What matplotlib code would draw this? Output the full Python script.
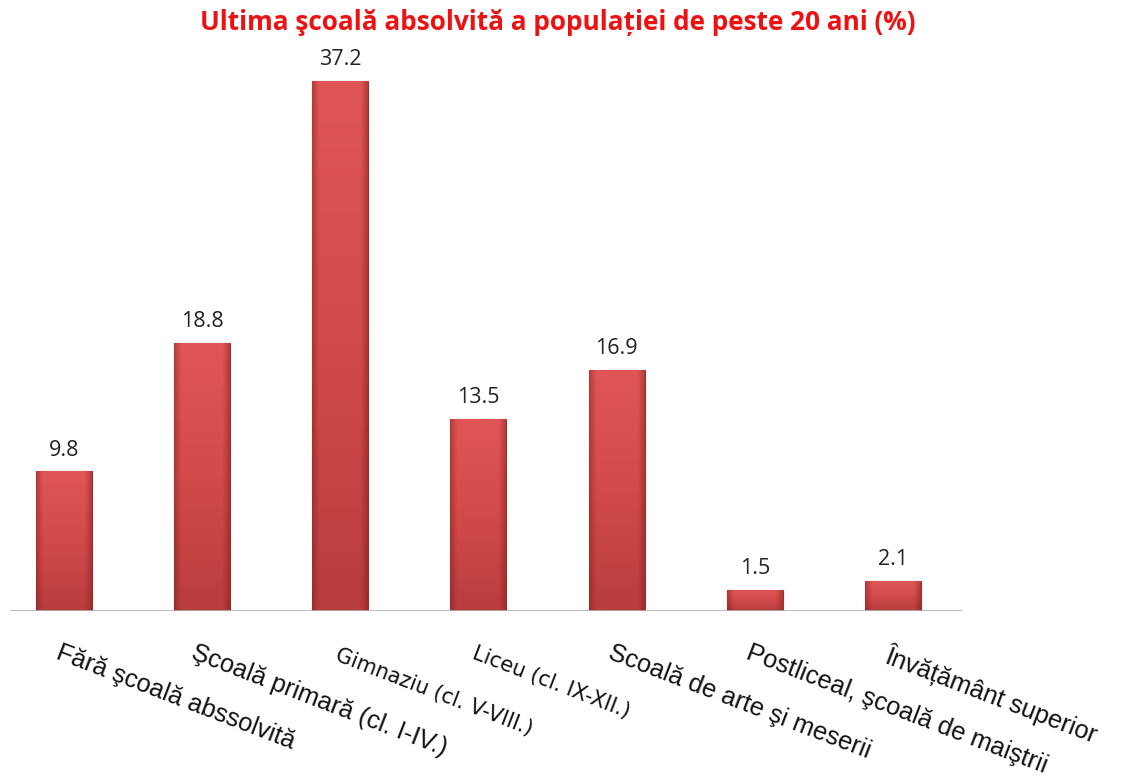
import matplotlib
matplotlib.use("Agg")
import matplotlib.pyplot as plt
import numpy as np
from matplotlib.colors import LinearSegmentedColormap

# data
categories = [
    "Fără şcoală abssolvită",
    "Şcoală primară (cl. I-IV.)",
    "Gimnaziu (cl. V-VIII.)",
    "Liceu (cl. IX-XII.)",
    "Scoală de arte şi meserii",
    "Postliceal, şcoală de maiştrii",
    "Învățământ superior",
]
values = [9.8, 18.8, 37.2, 13.5, 16.9, 1.5, 2.1]

title = "Ultima şcoală absolvită a populației de peste 20 ani (%)"

# label styling: (font family, size, x shift, y position)
label_fonts = ["Liberation Sans", "Liberation Sans", "DejaVu Sans", "DejaVu Sans",
               "Liberation Sans", "Liberation Sans", "Liberation Sans"]
label_sizes = [18.3, 18.3, 15, 15, 18.3, 18.3, 18.3]
label_dx = [-0.02, -0.04, 0.0, -0.01, -0.02, -0.02, -0.01]
label_y = [-2.1, -2.1, -2.4, -2.3, -2.1, -2.1, -2.1]

fig = plt.figure(figsize=(11.22, 7.78), dpi=100)
ax = fig.add_axes([0.0089, 0.2147, 0.8485, 0.7326])

x = np.arange(len(values))
bars = ax.bar(x, values, width=0.405, color="#cc4646", edgecolor="#9a3030",
              linewidth=0.8, zorder=2)

# gradient shading inside bars
cmap = LinearSegmentedColormap.from_list("bev", ["#b83d3d", "#d24a4a", "#e05656"])
grad = np.linspace(0, 1, 256).reshape(-1, 1)
side = np.concatenate([np.linspace(0.0, 1, 8), np.ones(40), np.linspace(1, 0.0, 8)]).reshape(1, -1)
side_cmap = LinearSegmentedColormap.from_list(
    "s", [(0.45, 0.08, 0.08, 0.4), (0.5, 0.1, 0.1, 0.0)])
for b in bars:
    x0, y0 = b.get_x(), b.get_y()
    w, h = b.get_width(), b.get_height()
    im = ax.imshow(grad, cmap=cmap, origin="lower", aspect="auto",
                   extent=[x0, x0 + w, y0, y0 + h], zorder=2.5)
    im.set_clip_path(b)
    ov = ax.imshow(side, cmap=side_cmap, origin="lower", aspect="auto",
                   extent=[x0, x0 + w, y0, y0 + h], zorder=2.6)
    ov.set_clip_path(b)
    ax.text(b.get_x() + w / 2, h + 0.75, f"{h:.1f}", ha="center", va="bottom",
            fontsize=15.5, family="Open Sans", color="#222222")

ax.set_xlim(-0.39, 6.5)
ax.set_ylim(0, 40)
ax.axhline(0, color="#b0b0b0", lw=1.2, zorder=3)
for s in ax.spines.values():
    s.set_visible(False)
ax.set_xticks([])
ax.set_yticks([])

for xi, lab, fam, fs, dx, ly in zip(x, categories, label_fonts, label_sizes, label_dx, label_y):
    ax.text(xi + dx, ly, lab, rotation=-21, rotation_mode="anchor",
            ha="left", va="top", fontsize=fs, family=fam, color="#111111")

fig.text(0.497, 0.971, title, ha="center", va="center", fontsize=18.8,
         fontweight="bold", color="#ee1111", family="Open Sans")

fig.savefig("out.png", dpi=100)
